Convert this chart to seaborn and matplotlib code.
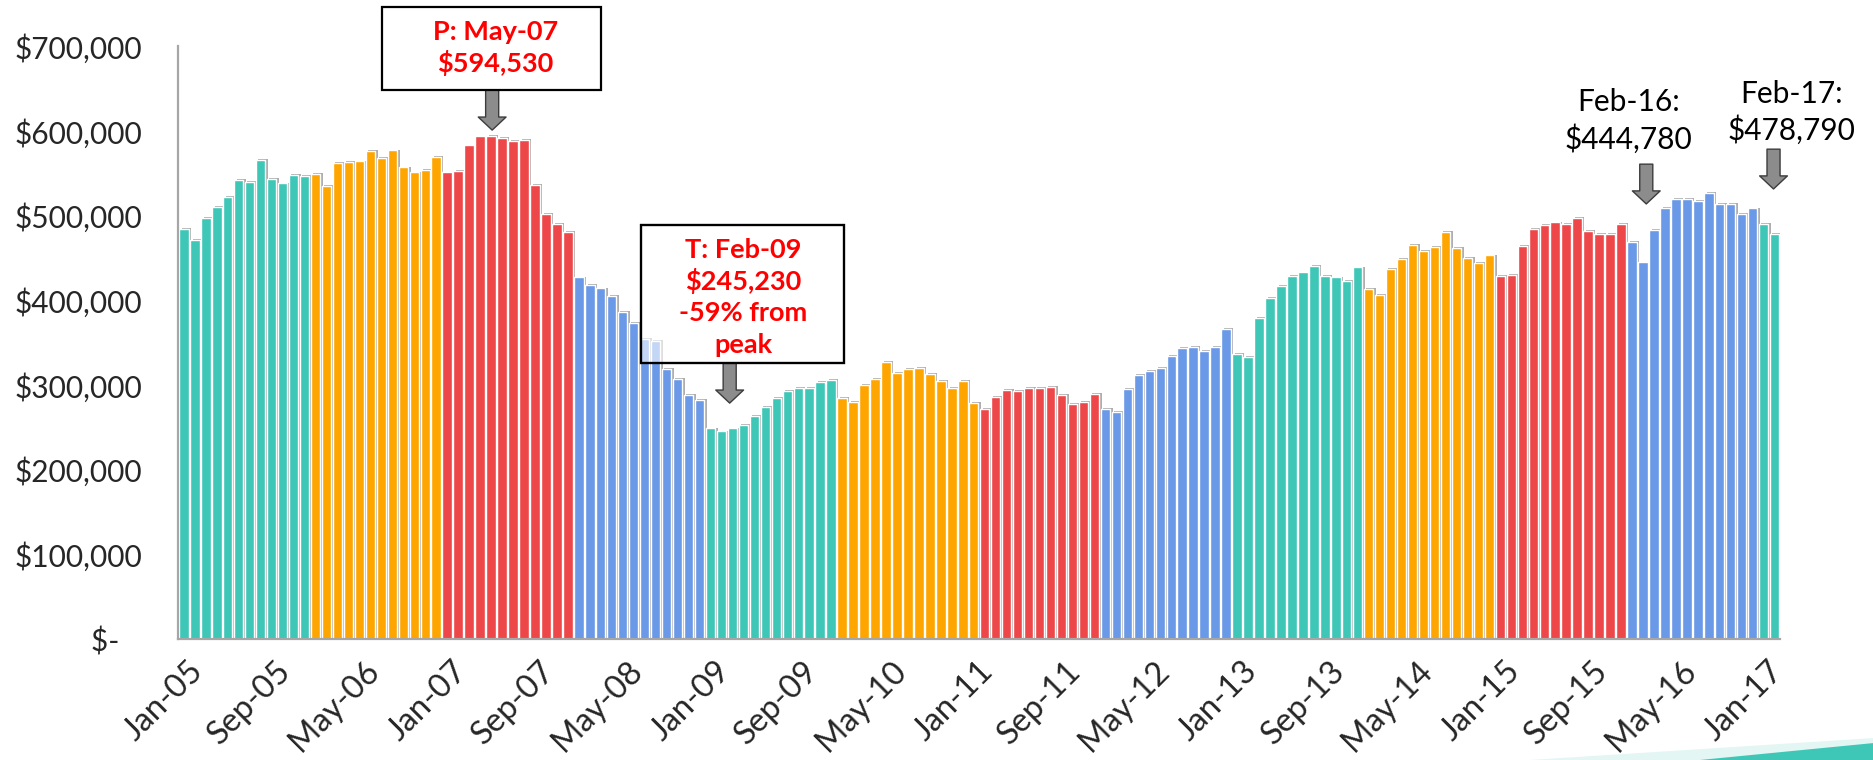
import numpy as np
import pandas as pd
import matplotlib
matplotlib.use("Agg")
import matplotlib.pyplot as plt
import matplotlib.patheffects as pe
from matplotlib.patches import Rectangle, Polygon
from matplotlib.ticker import FuncFormatter
from matplotlib.transforms import ScaledTranslation
import seaborn as sns

# -----------------------------
# data: median price by month, Jan-05 .. Feb-17
# -----------------------------
months = pd.date_range("2005-01-01", "2017-02-01", freq="MS").strftime("%b-%y").tolist()

price_2005 = [484000, 471000, 497000, 510000, 522000, 542000, 540000, 566000, 543000, 538000, 548000, 547000]
price_2006 = [549000, 535000, 562000, 563000, 564000, 576000, 568000, 577000, 557000, 551000, 554000, 569000]
price_2007 = [551000, 553000, 583000, 593500, 594530, 591500, 588000, 589000, 536000, 502000, 490000, 480500]
price_2008 = [427000, 418000, 414000, 405000, 386000, 373000, 354500, 352000, 319000, 307000, 288500, 282000]
price_2009 = [248700, 245230, 248700, 252700, 263000, 274000, 285000, 293000, 296700, 297000, 303800, 306000]
price_2010 = [285000, 280000, 300000, 307000, 327000, 314000, 318800, 320000, 313000, 304600, 296300, 304600]
price_2011 = [278600, 271500, 286000, 294000, 292800, 296500, 296500, 297700, 288000, 277500, 279800, 289000]
price_2012 = [271500, 268000, 295000, 311700, 316800, 320000, 334000, 344000, 344700, 340000, 344700, 366000]
price_2013 = [336500, 333000, 379000, 402600, 416800, 428600, 433000, 441000, 428600, 427000, 422700, 438800]
price_2014 = [413000, 406000, 436800, 448600, 465000, 458000, 462800, 480500, 461600, 450000, 444000, 453000]
price_2015 = [428600, 430000, 464000, 484000, 489000, 492000, 490000, 497000, 482000, 478000, 478000, 490000]
price_2016 = [468700, 444780, 483000, 509000, 519500, 519500, 517000, 526600, 514000, 513600, 502000, 508500]
price_2017 = [490000, 478790]

prices = (price_2005 + price_2006 + price_2007 + price_2008 + price_2009 + price_2010
          + price_2011 + price_2012 + price_2013 + price_2014 + price_2015 + price_2016
          + price_2017)

# colour runs of bars (teal, orange, red, blue repeating)
seg_lengths = [12, 12, 12, 12, 12, 13, 11, 12, 12, 12, 12, 12, 2]
seg_palette = ["#3EC7B7", "#FFA500", "#EE4749", "#6A99E8"]

bar_colors = []
for i, n in enumerate(seg_lengths):
    bar_colors += [seg_palette[i % 4]] * n

df = pd.DataFrame({"month": months, "price": prices})

# =============================
# FIGURE
# =============================
sns.set_style("white")
plt.rcParams["font.family"] = ["Lato", "DejaVu Sans"]

fig = plt.figure(figsize=(18.74, 7.6), dpi=100)
ax = fig.add_axes([0.0952, 0.1592, 0.8547, 0.7799])

sns.barplot(data=df, x="month", y="price", hue="month", palette=bar_colors,
            legend=False, width=0.86, saturation=1, ax=ax)

for p in ax.patches:
    p.set_path_effects([pe.SimplePatchShadow(offset=(1.8, 0.6), shadow_rgbFace="#a0a0a0", alpha=0.85),
                        pe.Normal()])

ax.set_xlim(-0.5, len(months) - 0.5)
ax.set_ylim(0, 700000)
ax.set_xlabel("")
ax.set_ylabel("")

# axes look
for s in ["top", "right"]:
    ax.spines[s].set_visible(False)
for s in ["left", "bottom"]:
    ax.spines[s].set_color("#a6a6a6")
    ax.spines[s].set_linewidth(1.6)
    ax.spines[s].set_zorder(4)

ax.set_yticks(np.arange(0, 700001, 100000))
ax.yaxis.set_major_formatter(FuncFormatter(lambda v, _: "$-   " if v == 0 else f"${v:,.0f}"))
ax.tick_params(axis="y", length=8, width=1.3, color="#a6a6a6", pad=18, labelsize=21.5)

tick_idx = np.arange(0, len(months), 8)
ax.set_xticks(tick_idx - 0.5)
ax.set_xticklabels([months[i] for i in tick_idx], rotation=45, ha="right", va="top",
                   rotation_mode="anchor")
ax.tick_params(axis="x", length=7, width=1.3, color="#a6a6a6", pad=5, labelsize=23.5)
shift = ScaledTranslation(0.10, 0, fig.dpi_scale_trans)
for lab in ax.get_xticklabels():
    lab.set_transform(lab.get_transform() + shift)

# -----------------------------
# annotations
# -----------------------------
peak_i = int(np.argmax(prices))
trough_i = int(np.argmin(prices))
drop = prices[trough_i] / prices[peak_i] - 1

arrow_kw = dict(arrowstyle="simple,head_length=0.47,head_width=1.0,tail_width=0.47",
                fc="#8c8c8c", ec="#3c3c3c", lw=1.0, shrinkA=0, shrinkB=0, mutation_scale=20)
red_kw = dict(color="#FF0000", fontsize=19.5, fontweight="bold", ha="center", va="center",
              clip_on=False, zorder=7)
blk_kw = dict(color="black", fontsize=21.5, ha="center", va="center", clip_on=False, zorder=7)

# peak box
ax.add_patch(Rectangle((peak_i - 9.9, 648200), 19.9, 98300, fc="white", ec="black",
                       lw=1.6, clip_on=False, zorder=6))
ax.text(peak_i + 0.4, 717000, f"P: {months[peak_i]}", **red_kw)
ax.text(peak_i + 0.4, 680000, f"${prices[peak_i]:,.0f}", **red_kw)
ax.annotate("", xy=(peak_i + 0.1, 601000), xytext=(peak_i + 0.1, 648200),
            arrowprops=arrow_kw, annotation_clip=False)

# trough box
ax.add_patch(Rectangle((trough_i - 7.3, 325500), 18.5, 163600, fc="white", ec="black",
                       lw=1.6, alpha=0.6, clip_on=False, zorder=6))
ax.add_patch(Rectangle((trough_i - 7.3, 325500), 18.5, 163600, fc="none", ec="black",
                       lw=1.6, clip_on=False, zorder=6))
ax.text(trough_i + 2, 460000, f"T: {months[trough_i]}", **red_kw)
ax.text(trough_i + 2, 422500, f"${prices[trough_i]:,.0f}", **red_kw)
ax.text(trough_i + 2, 385000, f"{drop:.0%} from", **red_kw)
ax.text(trough_i + 2, 347500, "peak", **red_kw)
ax.annotate("", xy=(trough_i + 0.75, 278600), xytext=(trough_i + 0.75, 325500),
            arrowprops=arrow_kw, annotation_clip=False)

# Feb-16 and Feb-17 callouts
for i, dx, ax_dx, y_txt, y_tail in [(133, -1.3, 0.3, 634000, 560800), (145, 1.5, -0.1, 644000, 578500)]:
    ax.text(i + dx, y_txt, f"{months[i]}:", **blk_kw)
    ax.text(i + dx, y_txt - 43000, f"${prices[i]:,.0f}", **blk_kw)
    ax.annotate("", xy=(i + ax_dx, y_tail - 47000), xytext=(i + ax_dx, y_tail),
                arrowprops=arrow_kw, annotation_clip=False)

# slide decoration, bottom right
fig.add_artist(Polygon([[1530 / 1874, 0], [1874 / 1874, 22 / 760], [1, 0]], closed=True,
                       transform=fig.transFigure, fc="#e3f6f3", ec="none", zorder=0))
fig.add_artist(Polygon([[1700 / 1874, 0], [1874 / 1874, 17 / 760], [1, 0]], closed=True,
                       transform=fig.transFigure, fc="#3EC7B7", ec="none", zorder=1))

fig.savefig("out.png", dpi=100)
